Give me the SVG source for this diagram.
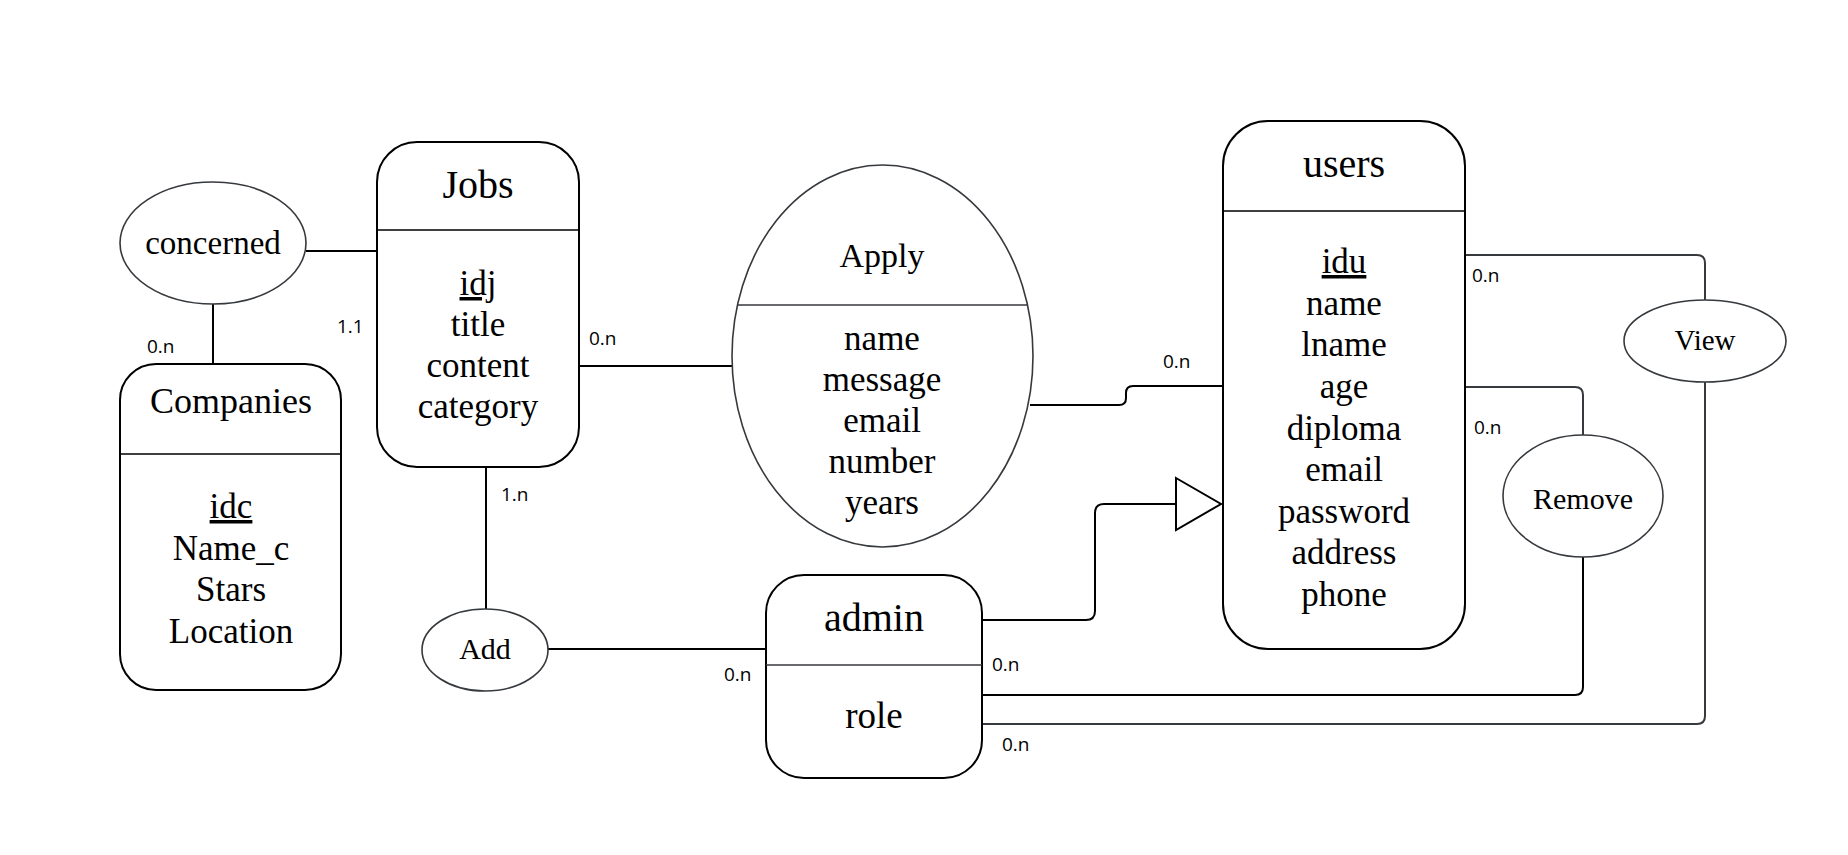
<svg xmlns="http://www.w3.org/2000/svg" width="1848" height="855" viewBox="0 0 1848 855">
<style>
.box{fill:#fff;stroke:#000;stroke-width:2}
.ell{fill:#fff;stroke:#36393d;stroke-width:1.6}
.sep{stroke:#000;stroke-width:1.6}
.sepg{stroke:#36393d;stroke-width:1.6}
.con{fill:none;stroke:#000;stroke-width:2}
.cong{fill:none;stroke:#36393d;stroke-width:2}
.t{font-family:"Liberation Serif",serif;fill:#000;text-anchor:middle}
.title{font-size:40px}
.attr{font-size:35px}
.rel{font-size:30px}
.lbl{font-family:"Open Sans","Liberation Sans",sans-serif;font-size:19px;fill:#000}
.u{text-decoration:underline;text-decoration-skip-ink:none}
</style>
<rect width="1848" height="855" fill="#fff"/>
<g id="connectors">
<path class="con" d="M306 251 H377"/>
<path class="con" d="M213 304 V364"/>
<path class="con" d="M579 366 H732"/>
<path class="con" d="M486 467 V609"/>
<path class="con" d="M548 649 H766"/>
<path class="con" d="M1030 405 H1119 Q1126 405 1126 398 V393 Q1126 386 1133 386 H1223"/>
<path class="cong" d="M1465 255 H1697 Q1705 255 1705 263 V300"/>
<path class="cong" d="M1705 382 V716 Q1705 724 1697 724 H982"/>
<path class="cong" d="M1465 387 H1575 Q1583 387 1583 395 V435"/>
<path class="con" d="M1583 557 V687 Q1583 695 1575 695 H982"/>
<path class="con" d="M982 620 H1086 Q1095 620 1095 611 V513 Q1095 504 1104 504 H1176"/>
<polygon points="1176,478 1221,504 1176,530" fill="#fff" stroke="#000" stroke-width="2"/>
<text class="lbl" x="147" y="353">0.n</text>
<text class="lbl" x="337" y="333">1.1</text>
<text class="lbl" x="589" y="345">0.n</text>
<text class="lbl" x="501" y="501">1.n</text>
<text class="lbl" x="724" y="681">0.n</text>
<text class="lbl" x="1163" y="368">0.n</text>
<text class="lbl" x="1472" y="282">0.n</text>
<text class="lbl" x="1474" y="434">0.n</text>
<text class="lbl" x="992" y="671">0.n</text>
<text class="lbl" x="1002" y="751">0.n</text>
</g>
<g id="concerned">
<ellipse class="ell" cx="213" cy="243" rx="93" ry="61"/>
<text class="t" x="213" y="254" style="font-size:33px">concerned</text>
</g>
<g id="companies">
<rect class="box" x="120" y="364" width="221" height="326" rx="36" ry="36"/>
<line class="sep" x1="120" y1="454" x2="341" y2="454"/>
<text class="t" x="231" y="413" style="font-size:36px">Companies</text>
<text class="t attr" x="231" y="518"><tspan class="u">idc</tspan></text>
<text class="t attr" x="231" y="560">Name_c</text>
<text class="t attr" x="231" y="601">Stars</text>
<text class="t attr" x="231" y="643">Location</text>
</g>
<g id="jobs">
<rect class="box" x="377" y="142" width="202" height="325" rx="40" ry="40"/>
<line class="sep" x1="377" y1="230" x2="579" y2="230"/>
<text class="t title" x="478" y="198">Jobs</text>
<text class="t attr" x="478" y="295"><tspan class="u">idj</tspan></text>
<text class="t attr" x="478" y="336">title</text>
<text class="t attr" x="478" y="377">content</text>
<text class="t attr" x="478" y="418">category</text>
</g>
<g id="apply">
<ellipse class="ell" cx="882.5" cy="356" rx="150.5" ry="191"/>
<line class="sepg" x1="737" y1="305" x2="1028" y2="305"/>
<text class="t" x="882" y="267" style="font-size:34px">Apply</text>
<text class="t attr" x="882" y="350">name</text>
<text class="t attr" x="882" y="391">message</text>
<text class="t attr" x="882" y="432">email</text>
<text class="t attr" x="882" y="473">number</text>
<text class="t attr" x="882" y="514">years</text>
</g>
<g id="users">
<rect class="box" x="1223" y="121" width="242" height="528" rx="45" ry="45"/>
<line class="sep" x1="1223" y1="211" x2="1465" y2="211"/>
<text class="t title" x="1344" y="177">users</text>
<text class="t attr" x="1344" y="273"><tspan class="u">idu</tspan></text>
<text class="t attr" x="1344" y="315">name</text>
<text class="t attr" x="1344" y="356">lname</text>
<text class="t attr" x="1344" y="398">age</text>
<text class="t attr" x="1344" y="440">diploma</text>
<text class="t attr" x="1344" y="481">email</text>
<text class="t attr" x="1344" y="523">password</text>
<text class="t attr" x="1344" y="564">address</text>
<text class="t attr" x="1344" y="606">phone</text>
</g>
<g id="view">
<ellipse class="ell" cx="1705" cy="341" rx="81" ry="41"/>
<text class="t rel" x="1705" y="350" style="font-size:29px">View</text>
</g>
<g id="remove">
<ellipse class="ell" cx="1583" cy="496" rx="80" ry="61"/>
<text class="t rel" x="1583" y="509">Remove</text>
</g>
<g id="add">
<ellipse class="ell" cx="485" cy="650" rx="63" ry="41"/>
<text class="t rel" x="485" y="659">Add</text>
</g>
<g id="admin">
<rect class="box" x="766" y="575" width="216" height="203" rx="38" ry="38"/>
<line class="sepg" x1="766" y1="665" x2="982" y2="665"/>
<text class="t title" x="874" y="631">admin</text>
<text class="t" x="874" y="728" style="font-size:37px">role</text>
</g>
</svg>
